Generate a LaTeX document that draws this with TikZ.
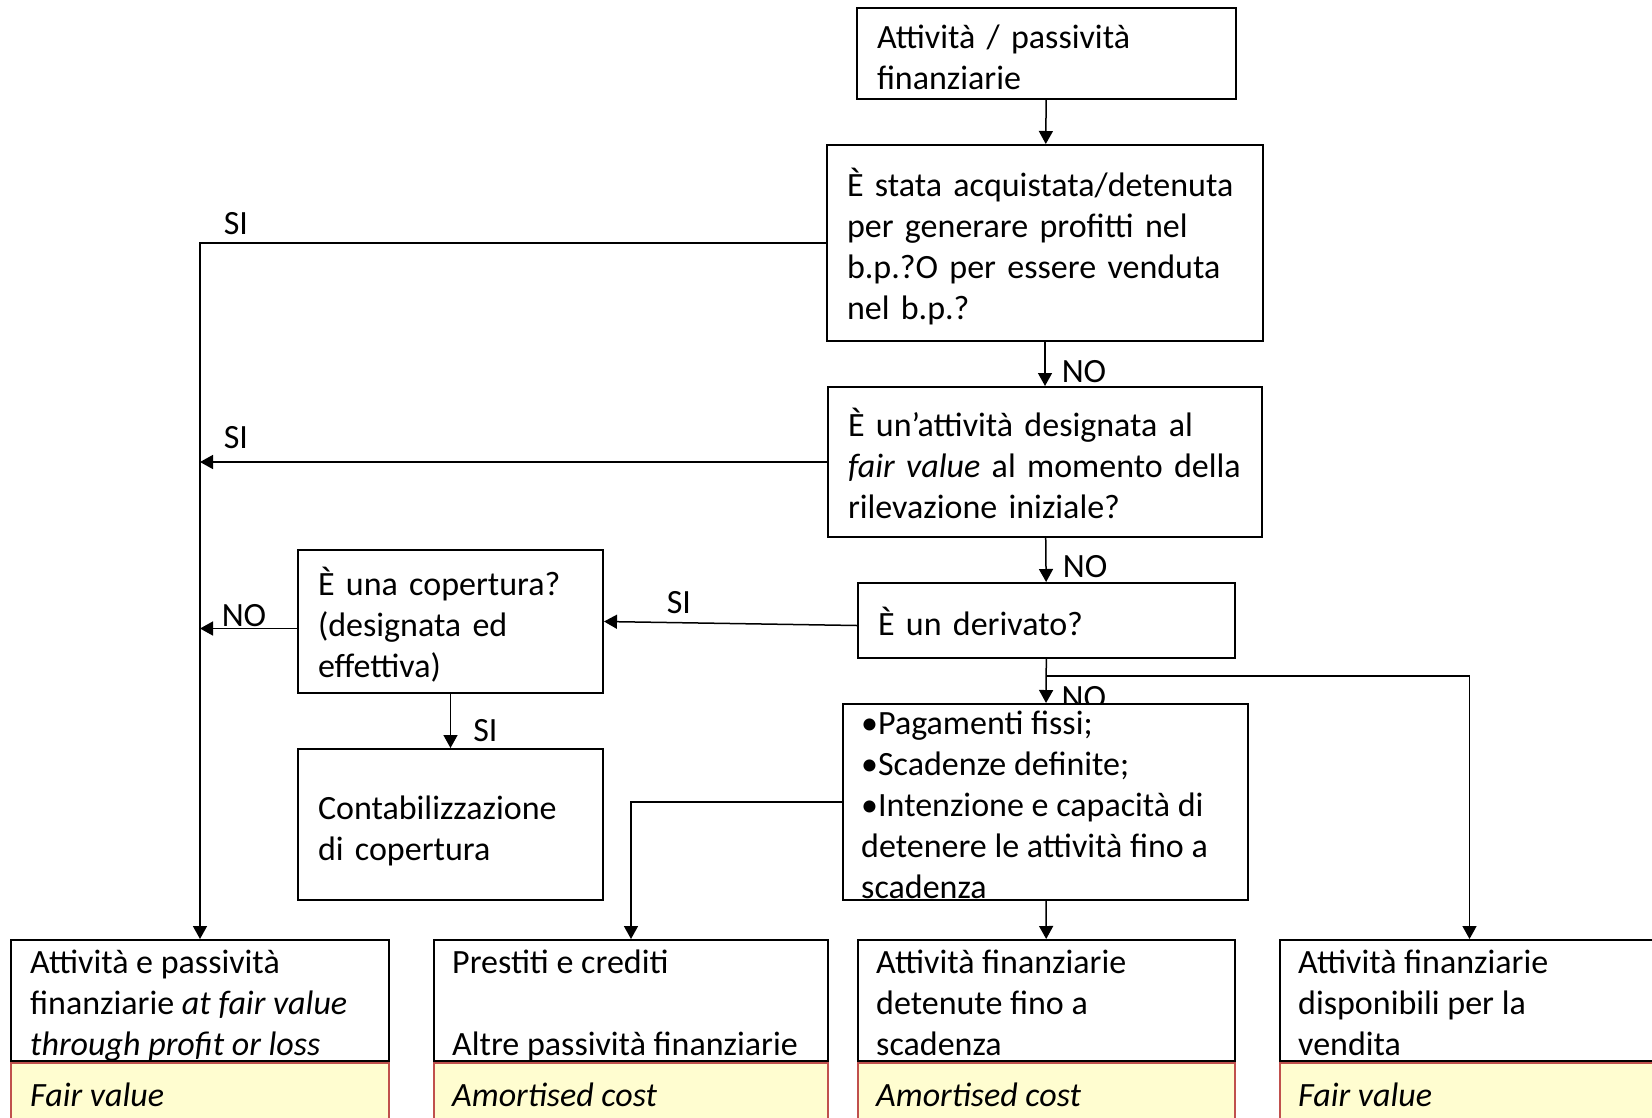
\documentclass[tikz,border=0pt]{standalone}
\usepackage{fontspec}
\setmainfont{Carlito}
\usetikzlibrary{positioning, arrows.meta, backgrounds}

\definecolor{cellfill}{RGB}{255,253,208}
\definecolor{cellline}{RGB}{192,80,77}
\newcommand{\topstrut}{\rule{0pt}{39pt}}
\newcommand{\botstrut}{\rule[-9pt]{0pt}{9pt}}

\begin{document}
\begin{tikzpicture}[x=1pt, y=-1pt, >={Triangle[length=13pt, width=14pt]},
	every node/.style={font=\fontsize{34}{41}\selectfont},
	box/.style={draw, line width=2pt, fill=white, align=left, inner xsep=20pt, inner ysep=0pt,
		execute at begin node=\topstrut, execute at end node=\botstrut},
	lbl/.style={inner sep=0pt, anchor=base west},
	upper/.style={draw, line width=2pt, fill=white, minimum height=121pt, inner sep=0pt},
	lower/.style={draw=cellline, line width=2pt, fill=cellfill, minimum height=80pt, inner sep=0pt},
	txt/.style={inner sep=0pt, anchor=base west, align=left},
	link/.style={->, line width=1.5pt}]
	
	\useasboundingbox (0,0) rectangle (1652,1117);
	\clip (0,0) rectangle (1652,1117);
	
	% Define nodes
	\node [box, minimum width=379pt, minimum height=91pt, text width=339pt] (start) at (1046.5,53.5) {Attività / passività\\finanziarie};
	\node [box, minimum width=436pt, minimum height=196pt, text width=396pt] (trading) at (1045,243) {È stata acquistata/detenuta\\per generare profitti nel\\b.p.?O per essere venduta\\nel b.p.?};
	\node [box, minimum width=434pt, minimum height=150pt, text width=394pt] (designated) at (1045,462) {È un’attività designata al\\\textit{fair value} al momento della\\rilevazione iniziale?};
	\node [box, minimum width=377pt, minimum height=75pt, text width=337pt] (derivative) at (1046.5,620.5) {È un derivato?};
	\node [box, minimum width=305pt, minimum height=143pt, text width=265pt] (hedge) at (450.5,621.5) {È una copertura?\\(designata ed\\effettiva)};
	\node [box, minimum width=305pt, minimum height=151pt, text width=265pt] (hedgeacc) at (450.5,824.5) {Contabilizzazione\\di copertura};
	\node [draw, line width=2pt, fill=white, minimum width=405pt, minimum height=196pt] (maturity) at (1045.5,802) {};
	% text hangs out of the box: anchored at its last baseline
	\node [txt] (maturitytxt) at ([shift={(19,195)}]maturity.north west) {•Pagamenti fissi;\\•Scadenze definite;\\•Intenzione e capacità di\\detenere le attività fino a\\scadenza};
	
	% Result boxes
	\node [upper, minimum width=378pt] (fvpl) at (200,1000.5) {};
	\node [lower, minimum width=378pt, below=0pt of fvpl] (fvplm) {};
	\node [txt] at ([shift={(20,116)}]fvpl.north west) {Attività e passività\\finanziarie \textit{at fair value}\\\textit{through profit or loss}};
	\node [txt] at ([shift={(20,44)}]fvplm.north west) {\textit{Fair value}};
	
	\node [upper, minimum width=394pt] (loans) at (631,1000.5) {};
	\node [lower, minimum width=394pt, below=0pt of loans] (loansm) {};
	\node [txt] at ([shift={(19,116)}]loans.north west) {Prestiti e crediti\\[41pt]Altre passività finanziarie};
	\node [txt] at ([shift={(19,44)}]loansm.north west) {\textit{Amortised cost}};
	
	\node [upper, minimum width=377pt] (htm) at (1046.5,1000.5) {};
	\node [lower, minimum width=377pt, below=0pt of htm] (htmm) {};
	\node [txt] at ([shift={(19,116)}]htm.north west) {Attività finanziarie\\detenute fino a\\scadenza};
	\node [txt] at ([shift={(19,44)}]htmm.north west) {\textit{Amortised cost}};
	
	\node [upper, minimum width=379pt] (afs) at (1469.5,1000.5) {};
	\node [lower, minimum width=379pt, below=0pt of afs] (afsm) {};
	\node [txt] at ([shift={(19,116)}]afs.north west) {Attività finanziarie\\disponibili per la\\vendita};
	\node [txt] at ([shift={(19,44)}]afsm.north west) {\textit{Fair value}};
	
	% Arrows down the main column
	\draw[link] (start) -- (trading);
	\draw[link] (trading) -- (designated) node[pos=1, lbl, xshift=16pt, yshift=4pt] {NO};
	\draw[link] (designated) -- (derivative) node[pos=1, lbl, xshift=16pt, yshift=5pt] {NO};
	\draw[link] (derivative) -- (maturity);
	\begin{scope}[on background layer]
		\node[lbl] (nomaturity) at ([shift={(16,5)}]maturity.north) {NO};
	\end{scope}
	\draw[link] (maturity) -- (htm);
	
	% Arrows to the left
	\draw[link] (trading.west) -| (fvpl.north) node[pos=0.5, lbl, xshift=23pt, yshift=9pt] {SI};
	\draw[link] (designated.west) -- (designated.west -| fvpl.north) node[pos=1, lbl, xshift=23pt, yshift=14pt] {SI};
	\draw[link] ([yshift=-5pt]derivative.west) -- (hedge.east) node[pos=1, lbl, xshift=62pt, yshift=8pt] {SI};
	\draw[link] ([yshift=-7pt]hedge.west) -- ([yshift=-7pt]hedge.west -| fvpl.north) node[pos=1, lbl, xshift=21pt, yshift=2pt] {NO};
	\draw[link] (hedge) -- (hedgeacc) node[pos=1, lbl, xshift=22pt, yshift=7pt] {SI};
	\draw[link] (maturity.west) -| (loans.north);
	\draw[link] (derivative.south) ++(0,17) -| (afs.north);
	
\end{tikzpicture}
\end{document}
